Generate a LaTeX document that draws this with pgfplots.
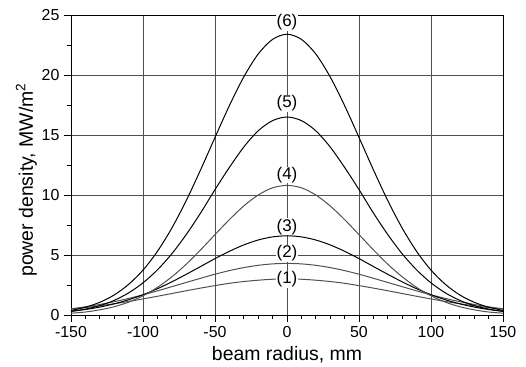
\documentclass[border=0pt]{standalone}
\usepackage{fontspec}
\setmainfont{Liberation Sans}
\usepackage{pgfplots}
\pgfplotsset{compat=1.18}
\definecolor{gridc}{RGB}{80,80,80}
\definecolor{grayline}{RGB}{80,80,80}
\begin{document}
\begin{tikzpicture}
\useasboundingbox (-71bp,-52bp) rectangle (455bp,315bp);
\begin{axis}[
  at={(0,0)}, anchor=south west,
  scale only axis,
  width=432bp, height=300bp,
  xmin=-150, xmax=150, ymin=0, ymax=25,
  xtick={-150,-100,...,150}, ytick={0,5,...,25},
  minor x tick num=4, minor y tick num=1,
  tick pos=left, tick align=outside,
  major tick length=7bp, minor tick length=4bp,
  grid=major,
  major grid style={gridc, line width=0.7pt},
  axis line style={black, line width=0.9pt},
  tick style={black, line width=0.7pt},
  /pgf/number format/assume math mode=true,
  ticklabel style={font=\fontsize{16}{19}\selectfont},
  yticklabel style={xshift=-1bp},
  xticklabel style={yshift=-1bp},
  xlabel={beam radius, mm},
  ylabel={power density, MW/m\textsuperscript{2}},
  xlabel style={font=\fontsize{19.5}{23}\selectfont, at={(axis description cs:0.5,-0.15)}, anchor=base},
  ylabel style={font=\fontsize{19.5}{23}\selectfont, at={(axis description cs:-0.088,0.45)}, anchor=base, rotate=0},
  clip=false,
]
% (1)
\addplot[grayline, line width=1pt, smooth] coordinates {
(-150,0.49)(-140,0.62)(-130,0.77)(-120,0.94)(-110,1.13)(-100,1.34)(-90,1.56)(-80,1.79)(-70,2.02)(-60,2.24)(-50,2.45)(-40,2.64)(-30,2.79)(-20,2.90)(-10,2.98)(0,3.00)
(10,2.98)(20,2.90)(30,2.79)(40,2.64)(50,2.45)(60,2.24)(70,2.02)(80,1.79)(90,1.56)(100,1.34)(110,1.13)(120,0.94)(130,0.77)(140,0.62)(150,0.49)};
% (2)
\addplot[grayline, line width=1pt, smooth] coordinates {
(-150,0.52)(-140,0.68)(-130,0.88)(-120,1.11)(-110,1.38)(-100,1.68)(-90,2.01)(-80,2.36)(-70,2.71)(-60,3.06)(-50,3.40)(-40,3.70)(-30,3.95)(-20,4.14)(-10,4.26)(0,4.30)
(10,4.26)(20,4.14)(30,3.95)(40,3.70)(50,3.40)(60,3.06)(70,2.71)(80,2.36)(90,2.01)(100,1.68)(110,1.38)(120,1.11)(130,0.88)(140,0.68)(150,0.52)};
% (3)
\addplot[black, line width=1pt, smooth] coordinates {
(-150,0.31)(-140,0.46)(-130,0.66)(-120,0.93)(-110,1.27)(-100,1.69)(-90,2.19)(-80,2.76)(-70,3.39)(-60,4.04)(-50,4.70)(-40,5.31)(-30,5.84)(-20,6.25)(-10,6.51)(0,6.60)
(10,6.51)(20,6.25)(30,5.84)(40,5.31)(50,4.70)(60,4.04)(70,3.39)(80,2.76)(90,2.19)(100,1.69)(110,1.27)(120,0.93)(130,0.66)(140,0.46)(150,0.31)};
% (4)
\addplot[grayline, line width=1pt, smooth] coordinates {
(-150,0.15)(-140,0.25)(-130,0.43)(-120,0.69)(-110,1.07)(-100,1.60)(-90,2.30)(-80,3.18)(-70,4.23)(-60,5.43)(-50,6.70)(-40,7.95)(-30,9.09)(-20,10.00)(-10,10.60)(0,10.80)
(10,10.60)(20,10.00)(30,9.09)(40,7.95)(50,6.70)(60,5.43)(70,4.23)(80,3.18)(90,2.30)(100,1.60)(110,1.07)(120,0.69)(130,0.43)(140,0.25)(150,0.15)};
% (5)
\addplot[black, line width=1pt, smooth] coordinates {
(-150,0.30)(-140,0.49)(-130,0.78)(-120,1.22)(-110,1.84)(-100,2.68)(-90,3.76)(-80,5.10)(-70,6.70)(-60,8.50)(-50,10.45)(-40,12.30)(-30,14.00)(-20,15.35)(-10,16.20)(0,16.50)
(10,16.20)(20,15.35)(30,14.00)(40,12.30)(50,10.45)(60,8.50)(70,6.70)(80,5.10)(90,3.76)(100,2.68)(110,1.84)(120,1.22)(130,0.78)(140,0.49)(150,0.30)};
% (6)
\addplot[black, line width=1pt, smooth] coordinates {
(-150,0.38)(-140,0.65)(-130,1.06)(-120,1.67)(-110,2.55)(-100,3.74)(-90,5.30)(-80,7.24)(-70,9.53)(-60,12.10)(-50,14.80)(-40,17.45)(-30,19.84)(-20,21.75)(-10,22.97)(0,23.40)
(10,22.97)(20,21.75)(30,19.84)(40,17.45)(50,14.80)(60,12.10)(70,9.53)(80,7.24)(90,5.30)(100,3.74)(110,2.55)(120,1.67)(130,1.06)(140,0.65)(150,0.38)};
\begin{scope}[every node/.style={fill=white, inner sep=0.5bp, font=\fontsize{17}{20}\selectfont}]
\node at (axis cs:0,24.4) {(6)};
\node at (axis cs:0,17.65) {(5)};
\node at (axis cs:0,11.67) {(4)};
\node at (axis cs:0,7.36) {(3)};
\node at (axis cs:0,5.15) {(2)};
\node at (axis cs:0,2.98) {(1)};
\end{scope}
\end{axis}
\end{tikzpicture}
\end{document}
